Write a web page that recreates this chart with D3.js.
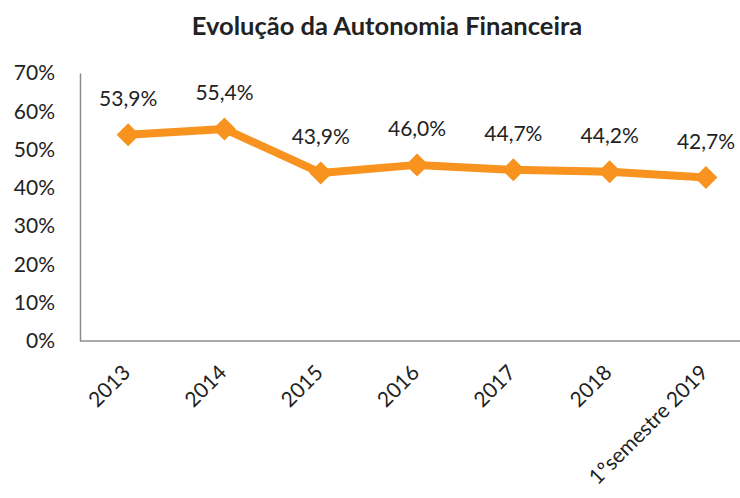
<html>
<head>
<script src="https://d3js.org/d3.v7.min.js"></script>
<style>
body { margin: 0; background: #fff; }
text { font-family: Lato, "Open Sans", sans-serif; fill: #222; }
</style>
</head>
<body>
<svg width="740" height="498"></svg>
<script>
var categories = ["2013", "2014", "2015", "2016", "2017", "2018", "1ºsemestre 2019"]
var values = [53.9, 55.4, 43.9, 46.0, 44.7, 44.2, 42.7]
var yTicks = [0, 10, 20, 30, 40, 50, 60, 70]

var svg = d3.select("svg")
var plotLeft = 80, plotTop = 73, plotBottom = 341
var bandW = 96.3

var x = d3.scalePoint().domain(categories).range([plotLeft + bandW / 2, plotLeft + bandW * 6.5])
var y = d3.scaleLinear().domain([0, 70]).range([plotBottom, plotTop])

svg.append("text")
  .attr("x", 387).attr("y", 35)
  .attr("text-anchor", "middle")
  .style("font-weight", "bold")
  .style("font-size", "25.5px")
  .text("Evolução da Autonomia Financeira")

// y axis
var ya = svg.append("g")
  .attr("transform", "translate(" + plotLeft + ",0)")
  .call(d3.axisLeft(y).tickValues(yTicks).tickSize(0).tickPadding(25).tickFormat(function(d){ return d + "%" }))
ya.select(".domain").attr("stroke", "#8c8c8c").attr("stroke-width", 1.5)
ya.selectAll("text").style("font-size", "21px").attr("fill", "#222")

// x axis
var xa = svg.append("g")
  .attr("transform", "translate(0," + plotBottom + ")")
  .call(d3.axisBottom(x).tickSize(0))
xa.select(".domain").attr("d", "M" + plotLeft + ",0H740").attr("stroke", "#8c8c8c").attr("stroke-width", 1.5)
xa.selectAll("text")
  .style("font-size", "21px")
  .attr("fill", "#222")
  .attr("text-anchor", "end")
  .attr("dy", null)
  .attr("y", 0)
  .attr("transform", "translate(3,33) rotate(-45)")

var line = d3.line()
  .x(function(d, i){ return x(categories[i]) })
  .y(function(d){ return y(d) })

svg.append("path")
  .datum(values)
  .attr("fill", "none")
  .attr("stroke", "#f7931e")
  .attr("stroke-width", 8)
  .attr("stroke-linejoin", "round")
  .attr("d", line)

// square-ish diamond markers
svg.selectAll(".pt")
  .data(values)
  .enter().append("path")
  .attr("class", "pt")
  .attr("fill", "#f7931e")
  .attr("d", "M0,-11.5L11.5,0L0,11.5L-11.5,0Z")
  .attr("transform", function(d, i){ return "translate(" + x(categories[i]) + "," + y(d) + ")" })

svg.selectAll(".lbl")
  .data(values)
  .enter().append("text")
  .attr("class", "lbl")
  .attr("x", function(d, i){ return x(categories[i]) })
  .attr("y", function(d){ return y(d) - 29 })
  .attr("text-anchor", "middle")
  .style("font-size", "21px")
  .text(function(d){ return d.toFixed(1).replace(".", ",") + "%" })
</script>
</body>
</html>
